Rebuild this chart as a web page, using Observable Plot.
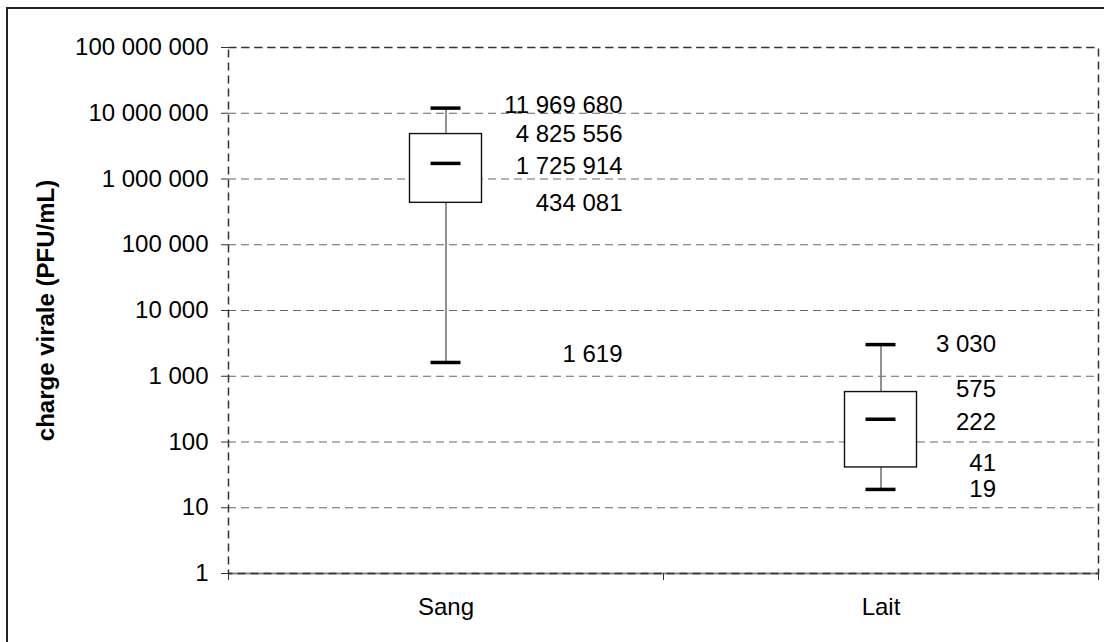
<!DOCTYPE html>
<html>
<head>
<meta charset="utf-8">
<script src="https://cdn.jsdelivr.net/npm/d3@7"></script>
<script src="https://cdn.jsdelivr.net/npm/@observablehq/plot@0.6"></script>
<style>
  html, body { margin: 0; padding: 0; background: #fff; overflow: hidden; }
  #wrap { position: relative; width: 1104px; height: 642px; }
  #outer { position: absolute; left: 6px; top: 7px; width: 1200px; height: 800px;
           border-left: 2px solid #222; border-top: 2px solid #222; pointer-events: none; }
</style>
</head>
<body>
<div id="wrap"><div id="outer"></div></div>
<script>
// ---- data ----
const categories = ["Sang", "Lait"];
const minimums   = [1619, 19];
const quartile1  = [434081, 41];
const medians    = [1725914, 222];
const quartile3  = [4825556, 575];
const maximums   = [11969680, 3030];
const yTicks     = [1, 10, 100, 1000, 10000, 100000, 1000000, 10000000, 100000000];
const yTitle     = "charge virale (PFU/mL)";

const rows = categories.map((c, i) => ({
  cat: c, min: minimums[i], q1: quartile1[i], med: medians[i], q3: quartile3[i], max: maximums[i]
}));
const stats = ["max", "q3", "med", "q1", "min"];
const labels = rows.flatMap(r => stats.map(k => ({cat: r.cat, k, v: r[k]})));

const fr = d3.formatLocale({decimal: ",", thousands: "\u00a0", grouping: [3], currency: ["", " €"]});
const fmt = fr.format(",d");

const font = "'Liberation Sans', Arial, Helvetica, sans-serif";
const half = (1104 - 228 - 6) / 4; // half a band, for edge ticks

// label placement styles (horizontal offset per category, small vertical nudges like the source)
const labelDx = {Sang: 176.5, Lait: 115};
const labelDy = {"Sang:max": -3, "Sang:med": 3, "Sang:min": -8, "Lait:q3": -3, "Lait:med": 3, "Lait:q1": -4};
const labelGroups = d3.groups(labels, d => `${d.cat}|${labelDy[d.cat + ":" + d.k] || 0}`);

const chart = Plot.plot({
  width: 1104,
  height: 642,
  marginLeft: 228,
  marginRight: 6,
  marginTop: 47,
  marginBottom: 69,
  style: {fontFamily: font, fontSize: "24px", color: "#000", background: "transparent", overflow: "visible"},
  x: {type: "band", domain: categories, padding: 0},
  y: {type: "log", domain: [1, 1e8]},
  marks: [
    Plot.ruleY(yTicks, {stroke: "#666", strokeWidth: 1, strokeDasharray: "8,5"}),
    Plot.ruleY([1], {stroke: "#888", strokeWidth: 2}),
    Plot.frame({stroke: "#333", strokeWidth: 1.5, strokeDasharray: "8,5"}),
    Plot.axisY({ticks: yTicks, tickFormat: fmt, tickSize: 7, tickPadding: 13, label: null, stroke: "#333"}),
    Plot.axisX({tickSize: 0, tickPadding: 24, label: null}),
    Plot.ruleX(categories, {x: d => d, y1: 1, y2: 1, dx: -half, insetBottom: -7, stroke: "#333"}),
    Plot.ruleX(categories.slice(-1), {x: d => d, y1: 1, y2: 1, dx: half, insetBottom: -7, stroke: "#333"}),
    // whiskers
    Plot.ruleX(rows, {x: "cat", y1: "min", y2: "max", stroke: "#777", strokeWidth: 1.6}),
    // boxes
    Plot.barY(rows, {x: "cat", y1: "q1", y2: "q3", fill: "#fff", stroke: "#111", strokeWidth: 1.4,
                     insetLeft: 181.5, insetRight: 181.5}),
    // caps
    Plot.tickY(rows, {x: "cat", y: "min", stroke: "#000", strokeWidth: 3.5, insetLeft: 202.5, insetRight: 202.5}),
    Plot.tickY(rows, {x: "cat", y: "max", stroke: "#000", strokeWidth: 3.5, insetLeft: 202.5, insetRight: 202.5}),
    // median
    Plot.tickY(rows, {x: "cat", y: "med", stroke: "#000", strokeWidth: 3.5, insetLeft: 202.5, insetRight: 202.5}),
    // value labels
    ...labelGroups.map(([key, group]) => {
      const [cat, dy] = key.split("|");
      return Plot.text(group, {x: "cat", y: "v", text: d => fmt(d.v), textAnchor: "end",
                               dx: labelDx[cat], dy: +dy, fontSize: 24, fill: "#000"});
    }),
    // y title
    Plot.text([yTitle], {frameAnchor: "left", textAnchor: "middle", dx: -182, rotate: -90,
                         fontWeight: "bold", fontSize: 24, fill: "#000"})
  ]
});
document.getElementById("wrap").prepend(chart);
</script>
</body>
</html>
